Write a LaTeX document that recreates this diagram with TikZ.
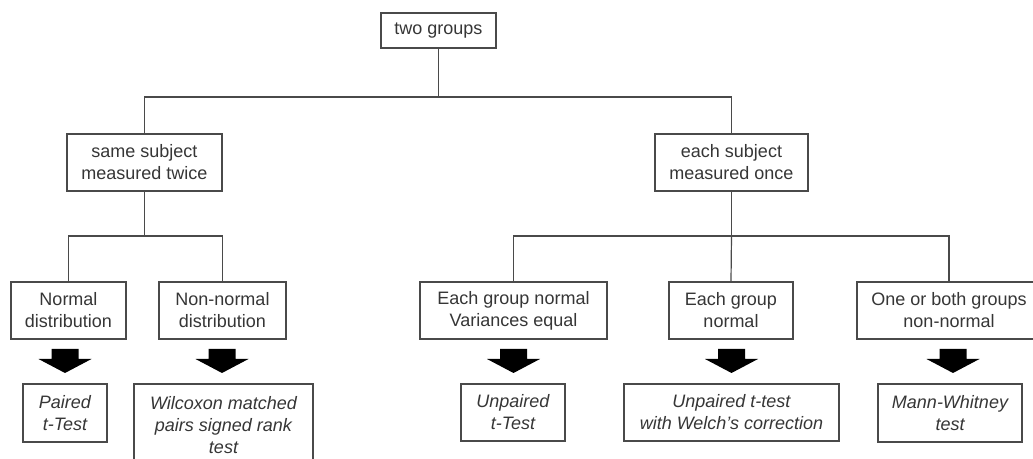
\documentclass[tikz,border=0pt]{standalone}
\usepackage{fontspec}
\setmainfont{Liberation Sans}
\definecolor{txt}{HTML}{363636}
\definecolor{ln}{HTML}{4A4A4A}
\begin{document}
\begin{tikzpicture}[x=0.75pt,y=-0.75pt,
  box/.style={draw=ln, line width=0.9pt, inner sep=0pt, align=center, text=txt,
    font=\fontsize{13.5}{16.5}\selectfont},
  res/.style={box, font=\fontsize{13.5}{16.5}\selectfont\itshape},
  conn/.style={draw=ln, line width=0.9pt},
  blockarrow/.pic={\fill[black] (-13.5,0) -- (13.5,0) -- (13.5,10) -- (26.5,10) -- (0,24) -- (-26.5,10) -- (-13.5,10) -- cycle;}]
\useasboundingbox (0,0) rectangle (1033,459);
\clip (0,0) rectangle (1033,459);
\fill[white] (0,0) rectangle (1033,459);
% level 1
\node[box, minimum width=115*0.75pt, minimum height=35*0.75pt] (top) at (438.5,30.5) {two groups};
% level 2
\node[box, minimum width=155*0.75pt, minimum height=57*0.75pt] (same) at (144.5,162.5) {same subject\\measured twice};
\node[box, minimum width=153*0.75pt, minimum height=57*0.75pt] (each) at (731.5,162.5) {each subject\\measured once};
% level 3
\node[box, minimum width=115*0.75pt, minimum height=57*0.75pt] (normal) at (68.5,310.5) {Normal\\distribution};
\node[box, minimum width=127*0.75pt, minimum height=57*0.75pt] (nonnormal) at (222.5,310.5) {Non-normal\\distribution};
\node[box, minimum width=187*0.75pt, minimum height=57*0.75pt] (vareq) at (513.5,310.5) {Each group normal\\Variances equal};
\node[box, minimum width=124*0.75pt, minimum height=57*0.75pt] (eachnormal) at (731,310.5) {Each group\\normal};
\node[box, minimum width=184*0.75pt, minimum height=57*0.75pt] (oneboth) at (949,310.5) {One or both groups\\non-normal};
% results
\node[res, minimum width=84*0.75pt, minimum height=58*0.75pt] (paired) at (65,413) {Paired\\t-Test};
\node[res, minimum width=179*0.75pt, minimum height=82*0.75pt] (wilcoxon) at (223.5,425) {Wilcoxon matched\\pairs signed rank\\test};
\node[res, minimum width=104*0.75pt, minimum height=57*0.75pt] (unpaired) at (513,412.5) {Unpaired\\t-Test};
\node[res, minimum width=215*0.75pt, minimum height=57*0.75pt] (welch) at (731.5,412.5) {Unpaired t-test\\with Welch's correction};
\node[res, minimum width=144*0.75pt, minimum height=58*0.75pt] (mann) at (950,413) {Mann-Whitney\\test};
% connectors
\coordinate (j1) at (438.5,97);
\draw[conn] (top.south) -- (j1);
\draw[conn] (same.north) |- (j1) -| (each.north);
\coordinate (j2) at (144.5,236);
\draw[conn] (same.south) -- (j2);
\draw[conn] (normal.north) |- (j2) -| (nonnormal.north);
\coordinate (j3) at (731.5,236);
\draw[conn] (each.south) -- (j3);
\draw[conn] (vareq.north) |- (j3) -| (oneboth.north);
\draw[conn] (j3) -- (eachnormal.north);
% block arrows
\pic at (65,349) {blockarrow};
\pic at (222,349) {blockarrow};
\pic at (513.5,349) {blockarrow};
\pic at (731.5,349) {blockarrow};
\pic at (953,349) {blockarrow};
\end{tikzpicture}
\end{document}
